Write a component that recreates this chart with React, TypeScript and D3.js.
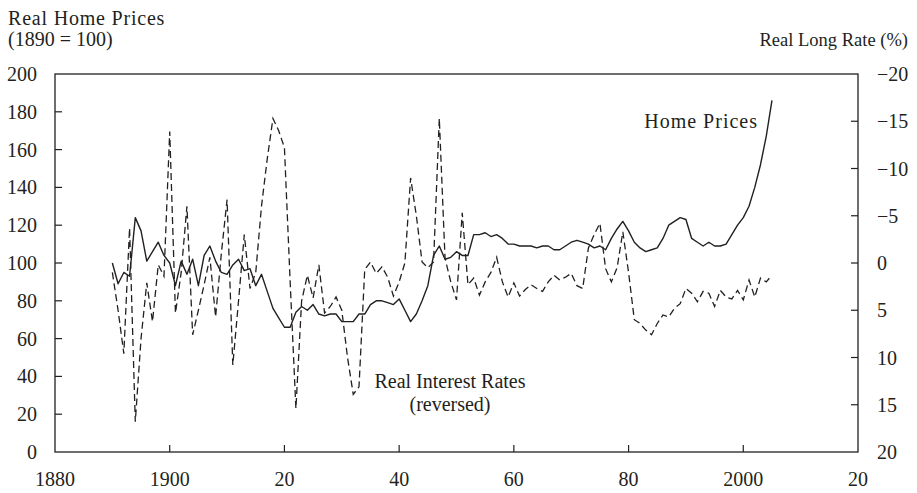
import React from "react";
import * as d3 from "d3";

// real home prices, 1890 = 100, one value per year from 1890
const priceStartYear = 1890;
const homePrices = [
  100, 89, 95, 93, 124, 117, 101, 106, 111, 104,
  100, 88, 101, 94, 102, 88, 104, 109, 101, 95,
  94, 99, 102, 96, 97, 88, 94, 85, 76, 71,
  66, 66, 74, 77, 75, 78, 73, 72, 73, 73,
  69, 69, 69, 73, 73, 78, 80, 80, 79, 78,
  81, 75, 69, 73, 80, 88, 104, 109, 102, 103,
  106, 104, 104, 115, 115, 116, 114, 115, 113, 110,
  110, 109, 109, 109, 108, 109, 109, 107, 107, 109,
  111, 112, 111, 110, 108, 109, 107, 113, 118, 122,
  117, 111, 108, 106, 107, 108, 113, 120, 122, 124,
  123, 113, 111, 109, 111, 109, 109, 110, 115, 120,
  124, 130, 140, 152, 167, 186,
];

// real long rate (%), one value per year from 1890, plotted on a reversed axis
const rateStartYear = 1890;
const realRates = [
  1, 5, 9.6, -3.7, 16.8, 8, 2.1, 6.2, 0.2, 1.4,
  -13.9, 5.3, 1, -6, 7.6, 5, 2.3, -0.6, 5.7, -1,
  -6.7, 10.8, 4, -3, 2.7, 1, -6, -11, -15.3, -14,
  -12.2, 2, 15.4, 4, 1.3, 3.7, 0.2, 5.3, 4.6, 3.6,
  5, 10, 13.9, 13.1, 0.7, -0.1, 1.1, 0.4, 1.5, 3.5,
  2, 0, -9, -5, -0.1, 0.5, -0.1, -15.3, -0.5, 2,
  3.9, -5.3, 2.3, 1.6, 3.4, 2, 1, -0.6, 2, 3.6,
  2.1, 3.5, 2.8, 2.3, 2.7, 3, 2, 1.3, 1.8, 1.5,
  1.1, 2.4, 2.7, -1.6, -3, -4.2, 0.6, 2, 0.5, -3.3,
  1, 6, 6.4, 7.1, 7.6, 6.4, 5.5, 5.7, 4.8, 4.3,
  2.7, 3.2, 4.1, 3, 3.2, 4.6, 2.9, 3.6, 3.8, 2.9,
  3.9, 1.8, 3.6, 1.6, 2, 1.3,
];

const xTicks = [1880, 1900, 1920, 1940, 1960, 1980, 2000, 2020];
const xTickLabels = ["1880", "1900", "20", "40", "60", "80", "2000", "20"];
const leftTicks = [0, 20, 40, 60, 80, 100, 120, 140, 160, 180, 200];
const rightTicks = [-20, -15, -10, -5, 0, 5, 10, 15, 20];

const W = 917;
const H = 493;
const margin = { top: 74, right: 59, bottom: 41, left: 55 };
const FONT = "'Liberation Serif', 'Times New Roman', serif";
const INK = "#231f20";

export default function App() {
  const x = d3.scaleLinear().domain([1880, 2020]).range([margin.left, W - margin.right]);
  const yL = d3.scaleLinear().domain([0, 200]).range([H - margin.bottom, margin.top]);
  // reversed: -20 at the top
  const yR = d3.scaleLinear().domain([-20, 20]).range([margin.top, H - margin.bottom]);

  const priceLine = d3
    .line<number>()
    .x((_, i) => x(priceStartYear + i))
    .y((d) => yL(d));
  const rateLine = d3
    .line<number>()
    .x((_, i) => x(rateStartYear + i))
    .y((d) => yR(d));

  const x0 = margin.left;
  const x1 = W - margin.right;
  const y0 = margin.top;
  const y1 = H - margin.bottom;
  const tick = 7;
  const fmtRight = (v: number) => (v < 0 ? "\u2212" + Math.abs(v) : String(v));

  return (
    <svg
      width={W}
      height={H}
      style={{ position: "absolute", left: 0, top: 0, background: "#fff" }}
      fontFamily={FONT}
      fill={INK}
    >
      {/* titles */}
      <text x={8} y={25} fontSize={20} letterSpacing={0.8}>Real Home Prices</text>
      <text x={8} y={46} fontSize={20}>(1890 = 100)</text>
      <text x={908} y={46} fontSize={18.5} textAnchor="end">Real Long Rate (%)</text>

      {/* series */}
      <path d={rateLine(realRates) || ""} fill="none" stroke={INK} strokeWidth={1.3} strokeDasharray="7 4" />
      <path d={priceLine(homePrices) || ""} fill="none" stroke={INK} strokeWidth={1.4} strokeLinejoin="round" />

      {/* frame */}
      <rect x={x0} y={y0} width={x1 - x0} height={y1 - y0} fill="none" stroke={INK} strokeWidth={1.3} />

      {/* bottom axis */}
      {xTicks.map((t, i) => (
        <g key={"x" + t}>
          {t > 1880 && t < 2020 && <line x1={x(t)} x2={x(t)} y1={y1} y2={y1 - tick} stroke={INK} strokeWidth={1.2} />}
          <text x={x(t)} y={486} fontSize={20} textAnchor="middle">{xTickLabels[i]}</text>
        </g>
      ))}

      {/* left axis */}
      {leftTicks.map((t) => (
        <g key={"l" + t}>
          {t > 0 && t < 200 && <line x1={x0} x2={x0 + tick} y1={yL(t)} y2={yL(t)} stroke={INK} strokeWidth={1.2} />}
          <text x={37} y={yL(t)} dy="0.35em" fontSize={20} textAnchor="end">{t}</text>
        </g>
      ))}

      {/* right axis */}
      {rightTicks.map((t) => (
        <g key={"r" + t}>
          {t > -20 && t < 20 && <line x1={x1} x2={x1 - tick} y1={yR(t)} y2={yR(t)} stroke={INK} strokeWidth={1.2} />}
          <text x={877} y={yR(t)} dy="0.35em" fontSize={20}>{fmtRight(t)}</text>
        </g>
      ))}

      {/* annotations */}
      <text x={758} y={128} fontSize={20} letterSpacing={1} textAnchor="end">Home Prices</text>
      <text x={450} y={388} fontSize={20} textAnchor="middle">Real Interest Rates</text>
      <text x={450} y={411} fontSize={20} textAnchor="middle">(reversed)</text>
    </svg>
  );
}
